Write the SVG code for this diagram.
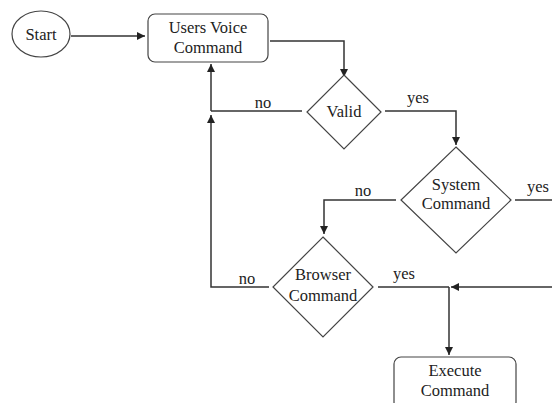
<svg xmlns="http://www.w3.org/2000/svg" width="552" height="403" viewBox="0 0 552 403">
<style>
.shape{fill:#fff;stroke:#444;stroke-width:1.2}
.ln{fill:none;stroke:#333;stroke-width:1.5}
text{font-family:"Liberation Serif","Times New Roman",serif;font-size:16.5px;fill:#222;text-anchor:middle}
</style>
<defs>
<marker id="ah" viewBox="0 0 10 10" refX="10" refY="5" markerWidth="8" markerHeight="8" markerUnits="userSpaceOnUse" orient="auto">
<path d="M0,0 L10,5 L0,10 Z" fill="#222"/>
</marker>
</defs>
<rect width="552" height="403" fill="#fff"/>
<g id="connectors">
<line class="ln" x1="71" y1="36" x2="145" y2="36" marker-end="url(#ah)"/>
<polyline class="ln" points="270,41 344,41 344,77" marker-end="url(#ah)"/>
<polyline class="ln" points="385,111 456,111 456,145" marker-end="url(#ah)"/>
<polyline class="ln" points="396,200 324,200 324,234" marker-end="url(#ah)"/>
<line class="ln" x1="515" y1="200" x2="552" y2="200"/>
<line class="ln" x1="302" y1="111" x2="211" y2="111"/>
<line class="ln" x1="211" y1="111" x2="211" y2="64" marker-end="url(#ah)"/>
<polyline class="ln" points="269,287 211,287 211,115" marker-end="url(#ah)"/>
<line class="ln" x1="378" y1="287" x2="449" y2="287"/>
<line class="ln" x1="552" y1="287" x2="451" y2="287" marker-end="url(#ah)"/>
<line class="ln" x1="449" y1="287" x2="449" y2="355" marker-end="url(#ah)"/>
<text x="263" y="108">no</text>
<text x="418" y="103">yes</text>
<text x="363" y="196">no</text>
<text x="538" y="192">yes</text>
<text x="247" y="284">no</text>
<text x="404" y="279">yes</text>
</g>
<g id="start">
<ellipse class="shape" cx="41" cy="34" rx="29" ry="23"/>
<text x="41" y="40">Start</text>
</g>
<g id="users-voice-command">
<rect class="shape" x="148" y="14" width="120" height="48" rx="7"/>
<text x="208" y="33">Users Voice</text>
<text x="208" y="53">Command</text>
</g>
<g id="valid">
<polygon class="shape" points="344,75 381,112 344,149 307,112"/>
<text x="344" y="117">Valid</text>
</g>
<g id="system-command">
<polygon class="shape" points="456,147 511,200 456,253 401,200"/>
<text x="456" y="190">System</text>
<text x="456" y="209">Command</text>
</g>
<g id="browser-command">
<polygon class="shape" points="323,237 373,287 323,337 273,287"/>
<text x="323" y="280">Browser</text>
<text x="323" y="301">Command</text>
</g>
<g id="execute-command">
<rect class="shape" x="394" y="357" width="122" height="52" rx="7"/>
<text x="455" y="376">Execute</text>
<text x="455" y="396">Command</text>
</g>
</svg>
